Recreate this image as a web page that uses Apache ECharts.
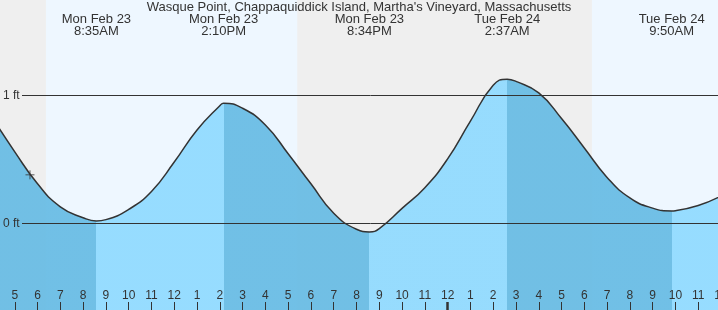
<!DOCTYPE html>
<html><head><meta charset="utf-8">
<script src="https://cdn.jsdelivr.net/npm/echarts@6/dist/echarts.min.js"></script>
<style>html,body{margin:0;padding:0;background:#fff}#c{width:718px;height:310px}</style>
</head><body><div id="c"></div>
<script>
// ---- data (hours counted from Mon Feb 23 00:00) ----
const chartTitle = "Wasque Point, Chappaquiddick Island, Martha's Vineyard, Massachusetts";
const hourTimes   = [4, 5, 6, 7, 8, 9, 10, 11, 12, 13, 14, 15, 16, 17, 18, 19, 20, 21, 22, 23, 24, 25, 26, 27, 28, 29, 30, 31, 32, 33, 34, 35, 36];
const hourHeights = [0.83, 0.56, 0.31, 0.13, 0.045, 0.03, 0.11, 0.25, 0.48, 0.73, 0.92, 0.90, 0.77, 0.545, 0.31, 0.08, -0.045, -0.04, 0.118, 0.28, 0.505, 0.80, 1.08, 1.11, 1.02, 0.82, 0.59, 0.36, 0.20, 0.12, 0.10, 0.14, 0.215];
const eventDays    = ['Mon Feb 23', 'Mon Feb 23', 'Mon Feb 23', 'Tue Feb 24', 'Tue Feb 24'];
const eventClock   = ['8:35AM', '2:10PM', '8:34PM', '2:37AM', '9:50AM'];
const eventTypes   = ['L', 'H', 'L', 'H', 'L'];
const eventHeights = [0.02, 0.94, -0.066, 1.127, 0.098];
const sunDays      = [0, 1];
const sunriseClock = ['6:22AM', '6:20AM'];
const sunsetClock  = ['5:24PM', '5:26PM'];
const nowDay = 0, nowClock = '5:40AM', nowHeight = 0.38;
const yTicks = [0, 1];
const X_MIN = 4, X_MAX = 36, MIDNIGHT = 24;
const Y_MIN = -0.676, Y_MAX = 1.746;

// ---- helpers ----
function toHours(day, clock) {
  const m = /(\d+):(\d+)(AM|PM)/.exec(clock);
  let h = (+m[1]) % 12 + (m[3] === 'PM' ? 12 : 0);
  return day * 24 + h + (+m[2]) / 60;
}
const dayIndex = s => (s.indexOf('Tue') === 0 ? 1 : 0);
const eventHours = eventClock.map((c, i) => toHours(dayIndex(eventDays[i]), c));
const curve = [];
hourTimes.forEach((t, i) => {
  if (eventHours.every(e => Math.abs(e - t) > 0.1)) curve.push([t, hourHeights[i]]);
});
eventHours.forEach((t, i) => curve.push([t, eventHeights[i]]));
curve.sort((a, b) => a[0] - b[0]);

const FONT = '"Liberation Sans", Arial, sans-serif';
const DARK = 'rgb(102,187,228)', LIGHT = 'rgb(143,218,255)';
const pieces = [];
for (let i = 0; i <= eventHours.length; i++) {
  const p = {};
  if (i > 0) p.gte = eventHours[i - 1];
  if (i < eventHours.length) p.lt = eventHours[i];
  const falling = i < eventHours.length ? eventTypes[i] === 'L' : eventTypes[i - 1] === 'H';
  p.color = falling ? DARK : LIGHT;
  pieces.push(p);
}
const dayBands = sunDays.map((d, i) => [{ xAxis: toHours(d, sunriseClock[i]) }, { xAxis: toHours(d, sunsetClock[i]) }]);

const chart = echarts.init(document.getElementById('c'), null, { renderer: 'canvas' });
const gridBase = { left: -8, right: -3, top: 0, bottom: 0, outerBoundsMode: 'none', containLabel: false };
const option = {
  animation: false,
  title: { text: chartTitle, left: 'center', top: 1, padding: 0,
    textStyle: { fontSize: 13, fontWeight: 'normal', color: '#333', fontFamily: FONT } },
  grid: [
    Object.assign({ show: true, backgroundColor: '#efefef', borderWidth: 0 }, gridBase),
    Object.assign({}, gridBase)
  ],
  xAxis: [
    { type: 'value', gridIndex: 0, min: X_MIN, max: X_MAX, interval: 1, z: 10,
      axisLine: { show: false, onZero: false }, splitLine: { show: false },
      axisTick: { show: true, inside: true, length: 8, lineStyle: { color: '#333', width: 1 } },
      axisLabel: { inside: true, margin: 8, color: '#333', fontSize: 12, fontFamily: FONT,
        showMinLabel: true, showMaxLabel: true,
        formatter: v => { const h = Math.round(v) % 12; return String(h === 0 ? 12 : h); } } },
    { type: 'value', gridIndex: 0, position: 'top', min: X_MIN, max: X_MAX, z: 10,
      axisLine: { show: false, onZero: false }, axisTick: { show: false }, splitLine: { show: false },
      axisLabel: { inside: true, margin: 13.5, customValues: eventHours, color: '#333', fontSize: 13,
        lineHeight: 12, fontFamily: FONT, align: 'center',
        formatter: v => { let k = 0, best = 1e9; eventHours.forEach((e, i) => { if (Math.abs(e - v) < best) { best = Math.abs(e - v); k = i; } }); return eventDays[k] + '\n' + eventClock[k]; } } },
    { type: 'value', gridIndex: 1, min: X_MIN, max: X_MAX, z: 10,
      axisLine: { show: false, onZero: false }, splitLine: { show: false }, axisLabel: { show: false },
      axisTick: { show: true, inside: true, length: 8, customValues: [MIDNIGHT], lineStyle: { color: '#333', width: 2.5 } } }
  ],
  yAxis: [
    { type: 'value', gridIndex: 0, min: Y_MIN, max: Y_MAX, z: 10,
      axisLine: { show: false }, axisTick: { show: false }, splitLine: { show: false },
      axisLabel: { inside: true, margin: 11, customValues: yTicks, color: '#333', fontSize: 12, fontFamily: FONT,
        formatter: v => v + ' ft' } },
    { type: 'value', gridIndex: 1, min: Y_MIN, max: Y_MAX, show: false }
  ],
  visualMap: { type: 'piecewise', show: false, dimension: 0, seriesIndex: 2, pieces: pieces },
  series: [
    { id: 'bands', type: 'line', xAxisIndex: 0, yAxisIndex: 0, data: [], z: 1,
      markArea: { silent: true, itemStyle: { color: '#eef7ff' }, data: dayBands } },
    { id: 'levels', type: 'line', xAxisIndex: 0, yAxisIndex: 0, data: [], z: 2,
      markLine: { silent: true, symbol: 'none', label: { show: false },
        lineStyle: { color: '#333', width: 1, type: 'solid' }, data: [] } },
    { id: 'water', type: 'line', xAxisIndex: 0, yAxisIndex: 0, data: curve, smooth: 0.5, symbol: 'none', z: 3,
      lineStyle: { width: 0 }, areaStyle: { opacity: 0.92, origin: 'start' } },
    { id: 'tide', type: 'line', xAxisIndex: 0, yAxisIndex: 0, data: curve, smooth: 0.5, symbol: 'none', z: 4,
      lineStyle: { color: '#333', width: 1.5 } },
    { id: 'now', type: 'scatter', xAxisIndex: 0, yAxisIndex: 0, data: [[toHours(nowDay, nowClock), nowHeight]], z: 5,
      symbol: 'path://M0,5H10M5,0V10', symbolSize: 9,
      itemStyle: { color: 'none', borderColor: '#333', borderWidth: 1 } }
  ]
};
chart.setOption(option);
const xStart = chart.convertFromPixel({ xAxisIndex: 0 }, 22);
chart.setOption({ series: [{ id: 'levels', markLine: { data: yTicks.map(v => [{ coord: [xStart, v] }, { coord: [X_MAX, v] }]) } }] });
</script></body></html>
